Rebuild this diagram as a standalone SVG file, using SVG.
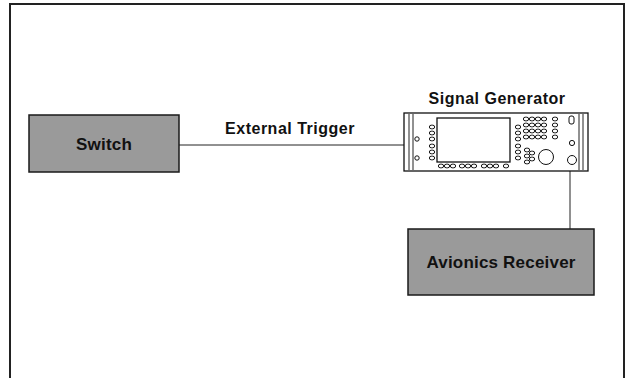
<svg xmlns="http://www.w3.org/2000/svg" width="632" height="378" viewBox="0 0 632 378">
<style>
.box{fill:#9a9a9a;stroke:#1a1a1a;stroke-width:1.5}
.lbl{font-family:"Liberation Sans",Arial,sans-serif;font-weight:bold;font-size:17px;fill:#111;text-anchor:middle;letter-spacing:0.2px}
.cap{font-family:"Liberation Sans",Arial,sans-serif;font-weight:bold;font-size:16px;fill:#111;text-anchor:middle;letter-spacing:0.5px}
.ln{stroke:#222;stroke-width:1;fill:none}
.k{fill:#fff;stroke:#111;stroke-width:1}
</style>
<defs>
<rect id="ov" x="-2.6" y="-1.8" width="5.2" height="3.6" rx="1.8" class="k"/>
</defs>
<rect x="10" y="4" width="614" height="380" fill="#fff" stroke="#222" stroke-width="2"/>
<g id="connectors">
<line class="ln" x1="179" y1="145" x2="405" y2="145"/>
<line class="ln" x1="570" y1="171" x2="570" y2="229"/>
<text class="cap" x="290" y="134">External Trigger</text>
</g>
<g id="switch">
<rect class="box" x="29" y="115" width="150" height="57"/>
<text class="lbl" x="104" y="150">Switch</text>
</g>
<g id="avionics">
<rect class="box" x="408" y="229" width="186" height="66"/>
<text class="lbl" x="501" y="268">Avionics Receiver</text>
</g>
<g id="signal-generator">
<text class="cap" x="497" y="104">Signal Generator</text>
<rect x="404" y="113" width="184" height="58" fill="#fff" stroke="#111" stroke-width="1.3"/>
<line class="ln" x1="409" y1="114" x2="409" y2="170"/>
<line class="ln" x1="413" y1="114" x2="413" y2="170"/>
<line class="ln" x1="579" y1="114" x2="579" y2="170"/>
<line class="ln" x1="583" y1="114" x2="583" y2="170"/>
<rect x="437" y="118" width="73" height="44" fill="#fff" stroke="#111" stroke-width="1.3"/>
<circle class="k" cx="417" cy="139" r="2.2"/>
<circle class="k" cx="417" cy="158" r="2.2"/>
<use href="#ov" x="432" y="127"/><use href="#ov" x="432" y="133"/><use href="#ov" x="432" y="139"/>
<use href="#ov" x="432" y="146"/><use href="#ov" x="432" y="152"/><use href="#ov" x="432" y="158"/>
<use href="#ov" x="441" y="166"/><use href="#ov" x="447" y="166"/><use href="#ov" x="453" y="166"/>
<use href="#ov" x="462" y="166"/><use href="#ov" x="468" y="166"/><use href="#ov" x="474" y="166"/>
<use href="#ov" x="484" y="166"/><use href="#ov" x="490" y="166"/><use href="#ov" x="496" y="166"/>
<use href="#ov" x="506" y="166"/>
<use href="#ov" x="518" y="127"/><use href="#ov" x="518" y="133"/><use href="#ov" x="518" y="139"/>
<use href="#ov" x="518" y="146"/><use href="#ov" x="518" y="152"/><use href="#ov" x="518" y="158"/>
<use href="#ov" x="526" y="119"/><use href="#ov" x="532" y="119"/><use href="#ov" x="538" y="119"/><use href="#ov" x="544" y="119"/>
<use href="#ov" x="526" y="125"/><use href="#ov" x="532" y="125"/><use href="#ov" x="538" y="125"/><use href="#ov" x="544" y="125"/>
<use href="#ov" x="526" y="131"/><use href="#ov" x="532" y="131"/><use href="#ov" x="538" y="131"/><use href="#ov" x="544" y="131"/>
<use href="#ov" x="526" y="137"/><use href="#ov" x="532" y="137"/><use href="#ov" x="538" y="137"/><use href="#ov" x="544" y="137"/>
<use href="#ov" x="555" y="119"/><use href="#ov" x="555" y="125"/><use href="#ov" x="555" y="131"/><use href="#ov" x="555" y="137"/>
<use href="#ov" x="527" y="150"/><use href="#ov" x="527" y="156"/><use href="#ov" x="527" y="162"/>
<use href="#ov" x="532" y="153"/><use href="#ov" x="532" y="159"/>
<circle class="k" cx="546" cy="157" r="7.5" stroke-width="1.3"/>
<rect class="k" x="569" y="116" width="5" height="8" rx="2"/>
<circle class="k" cx="572" cy="143" r="2.6" stroke-width="1.3"/>
<circle class="k" cx="572" cy="160" r="4.5" stroke-width="1.3"/>
</g>
</svg>
